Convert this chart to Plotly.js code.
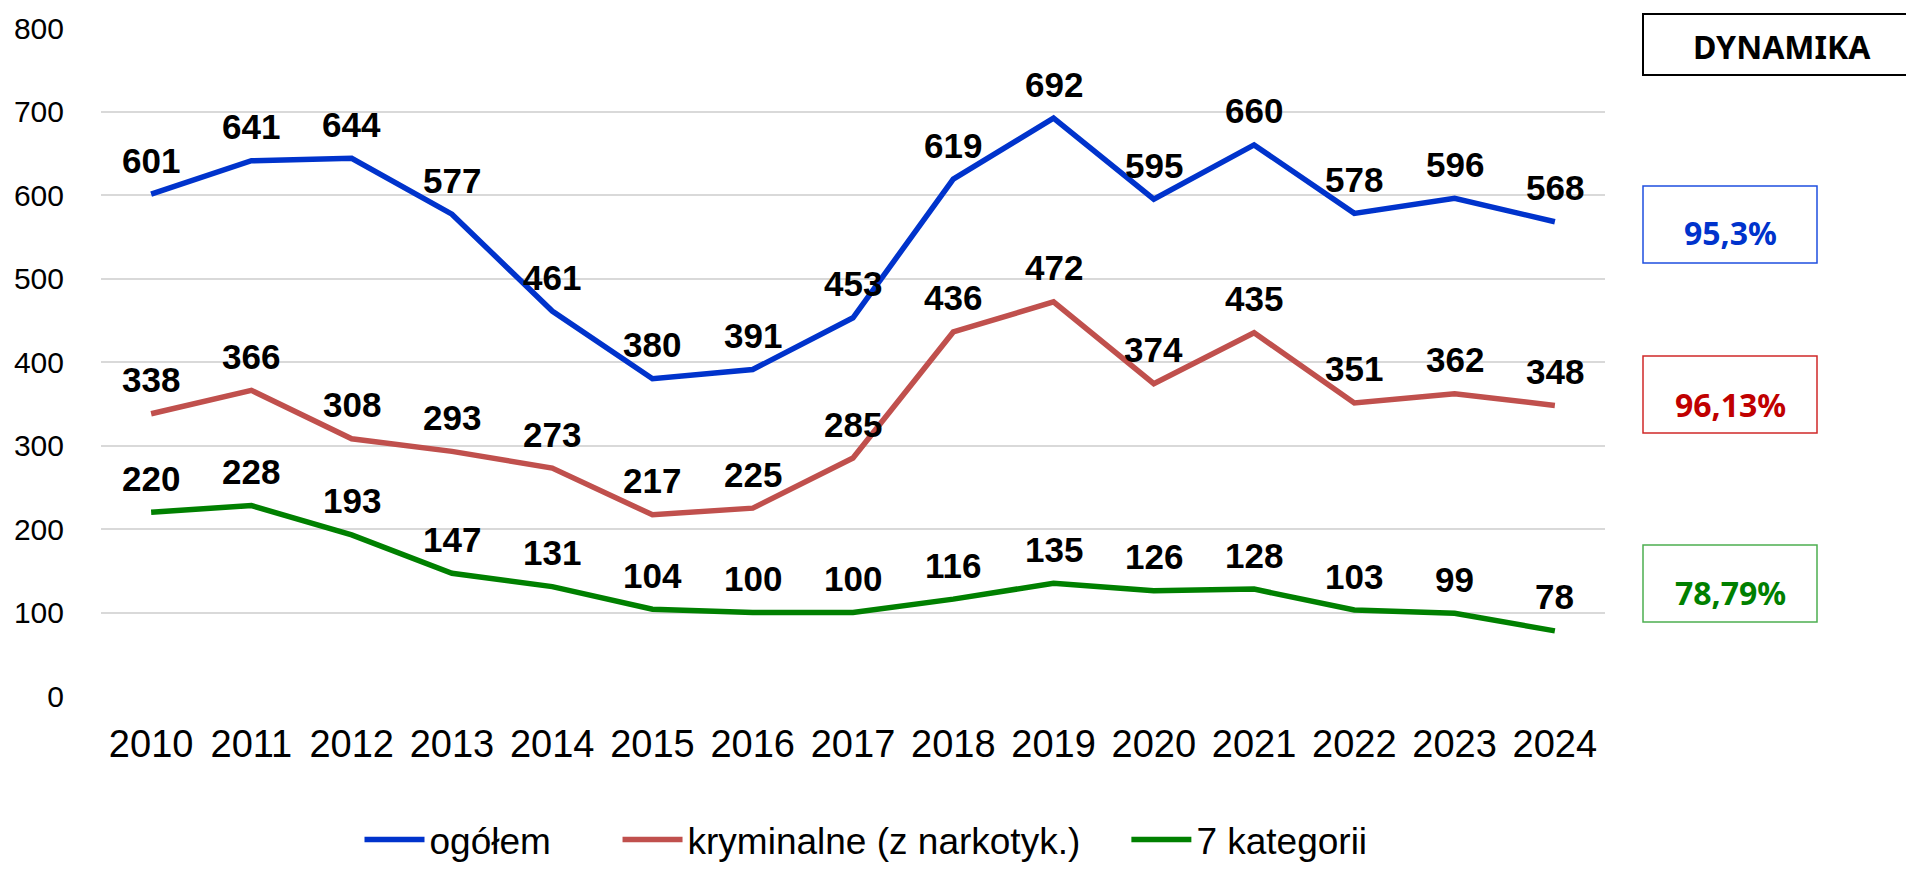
<!DOCTYPE html>
<html>
<head>
<meta charset="utf-8">
<script src="https://cdn.plot.ly/plotly-3.0.1.min.js"></script>
<style>
  html, body { margin: 0; padding: 0; background: #fff; }
  #chart { width: 1906px; height: 869px; }
</style>
</head>
<body>
<div id="chart"></div>
<script>
const years = ['2010','2011','2012','2013','2014','2015','2016','2017','2018','2019','2020','2021','2022','2023','2024'];
const ogolem = [601, 641, 644, 577, 461, 380, 391, 453, 619, 692, 595, 660, 578, 596, 568];
const kryminalne = [338, 366, 308, 293, 273, 217, 225, 285, 436, 472, 374, 435, 351, 362, 348];
const kategorii7 = [220, 228, 193, 147, 131, 104, 100, 100, 116, 135, 126, 128, 103, 99, 78];
const seriesNames = ['ogółem', 'kryminalne (z narkotyk.)', '7 kategorii'];
const dynamikaTitle = 'DYNAMIKA';
const dynamikaValues = ['95,3%', '96,13%', '78,79%'];
const yTicks = [0, 100, 200, 300, 400, 500, 600, 700, 800];

const colors = ['#0033CC', '#C0504D', '#008000'];
const boxBorder = ['#1F4FE0', '#D02828', '#4CAF50'];
const boxText = ['#0033CC', '#C00000', '#008000'];
const series = [ogolem, kryminalne, kategorii7];
const legendPad = [6, 4, 0];

const W = 1906, H = 869;
const L = 101, R = 1605, T = 28, B = 696;
const px = x => (x - L) / (R - L);
const py = y => (B - y) / (B - T);

const traces = series.map((vals, i) => ({
  type: 'scatter', mode: 'lines', x: years, y: vals,
  name: seriesNames[i] + '\u00a0'.repeat(legendPad[i]),
  line: { color: colors[i], width: 5.5 }, hoverinfo: 'skip'
}));

const annotations = [];
series.forEach(vals => {
  vals.forEach((v, j) => {
    annotations.push({
      x: j, y: v, xref: 'x', yref: 'y', text: String(v), showarrow: false,
      yshift: 34, font: { family: 'Liberation Sans, Arial, sans-serif', size: 35, color: '#000', weight: 'bold' }
    });
  });
});

const shapes = [];
shapes.push({ type: 'rect', xref: 'paper', yref: 'paper', x0: px(1643), x1: px(1920), y0: py(75), y1: py(14),
  line: { color: '#000', width: 2 }, fillcolor: 'rgba(0,0,0,0)' });
annotations.push({ xref: 'paper', yref: 'paper', x: px(1782), y: py(46), text: dynamikaTitle, showarrow: false,
  xanchor: 'center', yanchor: 'middle', font: { family: 'Noto Sans, sans-serif', size: 32, color: '#000', weight: 'bold' } });

const boxTops = [186, 356, 545];
const boxBots = [263, 433, 622];
const textY = [233, 404, 592];
dynamikaValues.forEach((t, i) => {
  shapes.push({ type: 'rect', xref: 'paper', yref: 'paper', x0: px(1643), x1: px(1817), y0: py(boxBots[i]), y1: py(boxTops[i]),
    line: { color: boxBorder[i], width: 1.5 }, fillcolor: 'rgba(0,0,0,0)' });
  annotations.push({ xref: 'paper', yref: 'paper', x: px(1730), y: py(textY[i]), text: t, showarrow: false,
    xanchor: 'center', yanchor: 'middle', font: { family: 'Noto Sans, sans-serif', size: 32, color: boxText[i], weight: 'bold' } });
});

const layout = {
  width: W, height: H,
  margin: { l: L, r: W - R, t: T, b: H - B, pad: 0, autoexpand: false },
  paper_bgcolor: '#fff', plot_bgcolor: '#fff',
  showlegend: true,
  legend: { orientation: 'h', xref: 'paper', yref: 'container', x: px(866), y: 1 - 840 / H,
    xanchor: 'center', yanchor: 'middle',
    font: { family: 'Liberation Sans, Arial, sans-serif', size: 37, color: '#000' },
    itemwidth: 60, tracegroupgap: 0, itemclick: false, itemdoubleclick: false },
  xaxis: { type: 'category', range: [-0.5, years.length - 0.5], showgrid: false, zeroline: false, showline: false, ticks: '',
    tickfont: { family: 'Liberation Sans, Arial, sans-serif', size: 38, color: '#000' },
    ticklabelstandoff: 22, automargin: false, fixedrange: true },
  yaxis: { range: [0, 800], tickvals: yTicks, ticktext: yTicks.map(String), showgrid: true,
    gridcolor: '#D9D9D9', gridwidth: 2, zeroline: false, showline: false, ticks: '',
    tickfont: { family: 'Liberation Sans, Arial, sans-serif', size: 30, color: '#000' },
    ticklabelstandoff: 36, automargin: false, fixedrange: true },
  shapes: shapes,
  annotations: annotations
};

Plotly.newPlot('chart', traces, layout, { displayModeBar: false, staticPlot: true });
</script>
</body>
</html>
